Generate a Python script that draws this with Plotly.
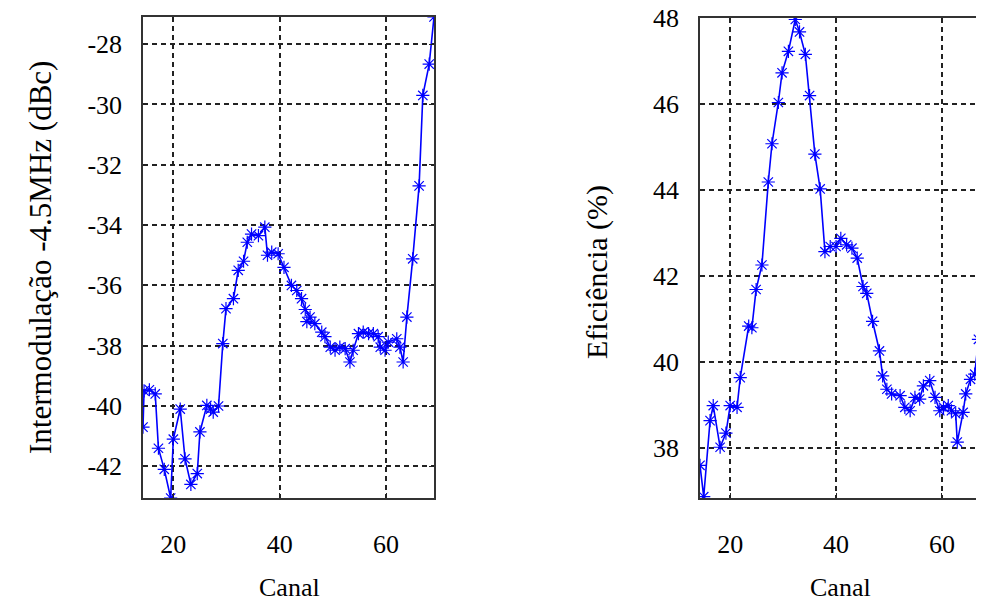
import plotly.graph_objects as go

# Left: intermodulation -4.5 MHz (dBc) vs channel
canal_im = [14.3, 14.5, 15.5, 16.6, 17.2, 18.3, 19.5, 20.0, 21.3, 22.2, 23.3, 24.5, 25.0, 26.3,
            27.0, 27.5, 28.5, 29.3, 29.9, 31.3, 32.2, 33.2, 33.9, 34.7, 36.0, 37.2, 37.7, 38.5,
            39.7, 40.8, 42.2, 43.2, 44.1, 44.8, 45.7, 45.1, 46.6, 47.9, 48.5, 49.5, 50.4, 51.3,
            52.3, 53.2, 53.8, 54.8, 55.7, 56.7, 57.6, 58.5, 58.9, 59.8, 60.4, 62.0, 62.6, 63.2,
            63.9, 65.0, 66.2, 66.9, 68.1, 69.0]
imd = [-40.7, -39.5, -39.46, -39.6, -41.4, -42.1, -43.05, -41.1, -40.1, -41.75, -42.6, -42.24, -40.86, -39.98,
       -40.1, -40.2, -40.0, -37.93, -36.77, -36.44, -35.5, -35.2, -34.57, -34.3, -34.35, -34.07, -35.0, -34.9,
       -34.95, -35.4, -36.0, -36.17, -36.44, -36.8, -37.05, -37.2, -37.27, -37.55, -37.7, -38.05, -38.15, -38.05,
       -38.1, -38.54, -38.15, -37.6, -37.55, -37.6, -37.6, -37.7, -38.05, -38.15, -37.88, -37.77, -38.05, -38.54,
       -37.05, -35.12, -32.7, -29.7, -28.66, -27.1]

# Right: efficiency (%) vs channel
canal_ef = [14.3, 15.0, 16.2, 16.8, 18.1, 19.2, 20.0, 21.3, 21.9, 23.5, 24.1, 24.9, 26.0, 27.2,
            27.9, 29.1, 29.8, 31.0, 32.3, 33.1, 34.2, 35.0, 36.0, 37.0, 37.9, 38.9, 40.0, 40.9,
            42.0, 43.0, 44.0, 45.1, 45.8, 46.9, 48.2, 48.8, 49.6, 50.5, 52.1, 53.0, 54.0, 54.9,
            55.8, 56.5, 57.7, 58.7, 59.6, 60.3, 61.2, 61.8, 62.6, 62.9, 64.0, 64.5, 65.4, 66.2,
            66.9, 67.7, 68.6]
eff = [37.6, 36.87, 38.64, 38.99, 38.02, 38.35, 38.99, 38.95, 39.64, 40.84, 40.8, 41.69, 42.26, 44.19,
       45.08, 46.04, 46.73, 47.23, 47.97, 47.68, 47.16, 46.2, 44.84, 44.03, 42.57, 42.69, 42.69, 42.88,
       42.73, 42.65, 42.42, 41.76, 41.6, 40.95, 40.26, 39.68, 39.37, 39.26, 39.22, 38.95, 38.87, 39.18,
       39.14, 39.45, 39.57, 39.18, 38.87, 38.95, 38.99, 38.87, 38.8, 38.14, 38.83, 39.26, 39.6, 39.72,
       40.53, 40.53, 40.6]

tick_x = [20, 40, 60]
tick_x_text = ["20", "40", "60"]
tick_y_im = [-28, -30, -32, -34, -36, -38, -40, -42]
tick_y_im_text = ["-28", "-30", "-32", "-34", "-36", "-38", "-40", "-42"]
tick_y_ef = [38, 40, 42, 44, 46, 48]
tick_y_ef_text = ["38", "40", "42", "44", "46", "48"]

# page body has an 8px margin, so the figure is laid out in window pixels minus 8
OFF = 8
W, H = 984 - OFF, 603 - OFF
FONT = "Liberation Serif, Times New Roman, serif"
BLUE = "#0000FF"


def px(x):
    return (x - OFF) / W


def py(y):
    return 1 - (y - OFF) / H


fig = go.Figure()
for xs, ys, xa, ya in [(canal_im, imd, "x", "y"), (canal_ef, eff, "x2", "y2")]:
    fig.add_trace(go.Scatter(x=xs, y=ys, mode="lines+markers", xaxis=xa, yaxis=ya,
                             line=dict(color=BLUE, width=1.6),
                             marker=dict(symbol="asterisk-open", size=11, color=BLUE,
                                         line=dict(color=BLUE, width=1.2)),
                             showlegend=False, cliponaxis=True))

grid = dict(showgrid=True, gridcolor="#222222", gridwidth=1.5, griddash="5px,4px",
            zeroline=False, ticks="inside", ticklen=5, tickcolor="#222", automargin=False,
            tickmode="array", ticklabeloverflow="allow",
            tickfont=dict(family=FONT, size=26, color="black"))

fig.update_layout(
    width=W, height=H, autosize=False,
    margin=dict(l=0, r=0, t=0, b=0, autoexpand=False),
    paper_bgcolor="white", plot_bgcolor="white",
    xaxis=dict(domain=[px(143), px(434)], range=[14.3, 69.0], tickvals=tick_x, ticktext=tick_x_text,
               showline=True, linecolor="#333", linewidth=1.5, mirror="ticks",
               ticklabelstandoff=22, anchor="y", **grid),
    yaxis=dict(domain=[py(498), py(17)], range=[-43.05, -27.1], tickvals=tick_y_im,
               ticktext=tick_y_im_text,
               showline=True, linecolor="#333", linewidth=1.5, mirror="ticks",
               ticklabelstandoff=14, anchor="x", **grid),
    xaxis2=dict(domain=[px(700), 1.0], range=[14.3, 67.95], tickvals=tick_x, ticktext=tick_x_text,
                showline=True, linecolor="#333", linewidth=1.5, mirror="ticks",
                ticklabelstandoff=22, anchor="y2", **grid),
    yaxis2=dict(domain=[py(498), py(18)], range=[36.84, 48.005], tickvals=tick_y_ef,
                ticktext=tick_y_ef_text,
                showline=True, linecolor="#333", linewidth=1.5, mirror=False,
                ticklabelstandoff=14, anchor="x2", **grid),
    annotations=[
        dict(text="Intermodulação -4.5MHz (dBc)", x=px(40), y=py(258), xref="paper", yref="paper",
             textangle=-90, showarrow=False, font=dict(family=FONT, size=31, color="black"),
             xanchor="center", yanchor="middle"),
        dict(text="Eficiência (%)", x=px(597), y=py(272), xref="paper", yref="paper",
             textangle=-90, showarrow=False, font=dict(family=FONT, size=30, color="black"),
             xanchor="center", yanchor="middle"),
        dict(text="Canal", x=px(289), y=py(587), xref="paper", yref="paper",
             showarrow=False, font=dict(family=FONT, size=26, color="black"),
             xanchor="center", yanchor="middle"),
        dict(text="Canal", x=px(840), y=py(587), xref="paper", yref="paper",
             showarrow=False, font=dict(family=FONT, size=26, color="black"),
             xanchor="center", yanchor="middle"),
    ],
)

fig.write_html("out.html")
